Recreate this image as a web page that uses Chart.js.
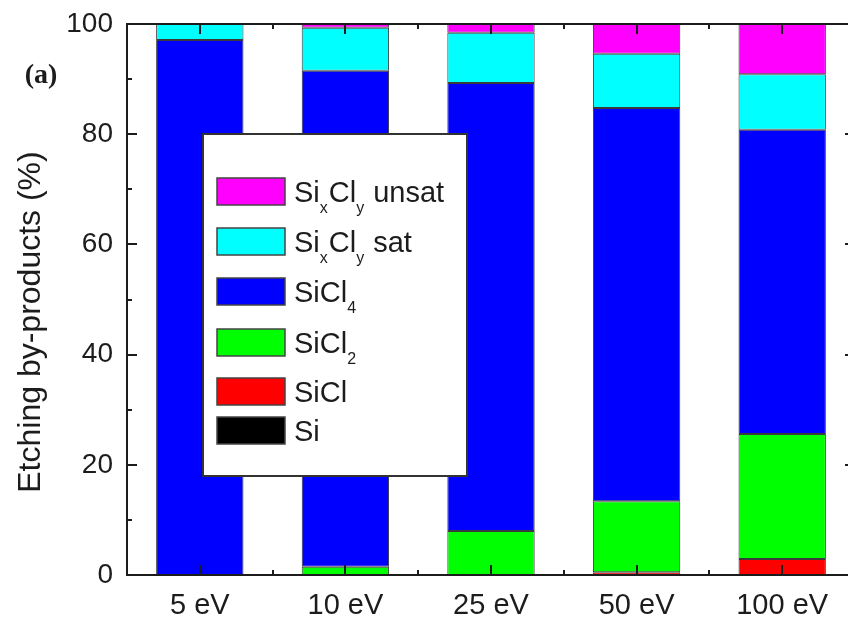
<!DOCTYPE html>
<html><head><meta charset="utf-8">
<script src="https://cdn.jsdelivr.net/npm/chart.js@4.4.0/dist/chart.umd.min.js"></script>
<style>
html,body{margin:0;padding:0;background:#fff;overflow:hidden;}
#wrap{width:848px;height:623px;overflow:hidden;position:relative;background:#fff;}
canvas{position:absolute;left:0;top:0;}
</style></head><body>
<div id="wrap"><canvas id="c" width="856" height="623"></canvas></div>
<script>
// ---- data ----
const categories = ['5 eV', '10 eV', '25 eV', '50 eV', '100 eV'];
const si          = [0, 0, 0, 0, 0];
const sicl        = [0, 0, 0, 0.5, 2.9];
const sicl2       = [0, 1.5, 8.0, 12.9, 22.7];
const sicl4       = [97.1, 90.0, 81.3, 71.35, 55.2];
const sixclySat   = [2.9, 7.8, 9.1, 9.85, 10.1];
const sixclyUnsat = [0, 0.7, 1.6, 5.4, 9.1];
const yTicks = [0, 20, 40, 60, 80, 100];
const yTitle = 'Etching by-products (%)';

const FONT = "'Liberation Sans', Arial, Helvetica, sans-serif";
const INK = '#1c1c1c';

const datasets = [
  {label: 'Si', data: si, backgroundColor: '#000000'},
  {label: 'SiCl', data: sicl, backgroundColor: '#ff0000'},
  {label: 'SiCl2', data: sicl2, backgroundColor: '#00ff00'},
  {label: 'SiCl4', data: sicl4, backgroundColor: '#0000ff'},
  {label: 'SixCly sat', data: sixclySat, backgroundColor: '#00ffff'},
  {label: 'SixCly unsat', data: sixclyUnsat, backgroundColor: '#ff00ff'}
].map(d => Object.assign(d, {
  borderColor: '#3a3a3a', borderWidth: 1, borderSkipped: false,
  barPercentage: 0.6, categoryPercentage: 1.0
}));

// legend label rich text (top to bottom)
const legendItems = [
  {ds: 5, parts: [['Si'], ['x', 1], ['Cl'], ['y', 1], [' unsat']]},
  {ds: 4, parts: [['Si'], ['x', 1], ['Cl'], ['y', 1], [' sat']]},
  {ds: 3, parts: [['SiCl'], ['4', 1]]},
  {ds: 2, parts: [['SiCl'], ['2', 1]]},
  {ds: 1, parts: [['SiCl']]},
  {ds: 0, parts: [['Si']]}
];
const legendRows = [191, 241, 291, 342, 391, 430];

const decor = {
  id: 'decor',
  afterDatasetsDraw(chart) {
    const {ctx, chartArea: a, scales: {x, y}} = chart;
    ctx.save();
    ctx.strokeStyle = INK;
    ctx.lineWidth = 2;
    // frame
    ctx.strokeRect(a.left, a.top, a.right - a.left, a.bottom - a.top);
    // y ticks (inward), left & right
    ctx.beginPath();
    for (let v = 0; v <= 100; v += 10) {
      const py = Math.round(y.getPixelForValue(v)) ;
      const len = (v % 20 === 0) ? 10 : 5;
      ctx.moveTo(a.left, py); ctx.lineTo(a.left + len, py);
      ctx.moveTo(a.right, py); ctx.lineTo(a.right - len, py);
    }
    // x ticks (inward), bottom & top
    const n = categories.length;
    for (let i = 0; i < n; i++) {
      const px = Math.round(x.getPixelForValue(i));
      ctx.moveTo(px, a.bottom); ctx.lineTo(px, a.bottom - 10);
      ctx.moveTo(px, a.top); ctx.lineTo(px, a.top + 10);
      if (i < n - 1) {
        const mx = Math.round((x.getPixelForValue(i) + x.getPixelForValue(i + 1)) / 2);
        ctx.moveTo(mx, a.bottom); ctx.lineTo(mx, a.bottom - 5);
        ctx.moveTo(mx, a.top); ctx.lineTo(mx, a.top + 5);
      }
    }
    ctx.stroke();

    // legend box
    const bx = 203, by = 134, bw = 264, bh = 342;
    ctx.fillStyle = '#ffffff';
    ctx.fillRect(bx, by, bw, bh);
    ctx.lineWidth = 2;
    ctx.strokeStyle = '#333';
    ctx.strokeRect(bx, by, bw, bh);
    legendItems.forEach((it, k) => {
      const cy = legendRows[k];
      const ds = chart.data.datasets[it.ds];
      ctx.fillStyle = ds.backgroundColor;
      ctx.fillRect(217, cy - 13, 68, 27);
      ctx.lineWidth = 1.5;
      ctx.strokeStyle = '#444';
      ctx.strokeRect(217, cy - 13, 68, 27);
      let tx = 294;
      const base = cy + 10.5;
      ctx.fillStyle = INK;
      ctx.textBaseline = 'alphabetic';
      ctx.textAlign = 'left';
      it.parts.forEach(([t, sub]) => {
        ctx.font = sub ? `16px ${FONT}` : `29px ${FONT}`;
        ctx.fillText(t, tx, sub ? base + 11 : base);
        tx += ctx.measureText(t).width + (sub ? 1 : 0);
      });
    });

    // y-axis title
    ctx.save();
    ctx.translate(31, 322);
    ctx.rotate(-Math.PI / 2);
    ctx.font = `32px ${FONT}`;
    ctx.fillStyle = INK;
    ctx.textAlign = 'center';
    ctx.textBaseline = 'middle';
    ctx.fillText(yTitle, 0, 0);
    ctx.restore();

    // panel label
    ctx.font = `bold 28px 'Liberation Serif', 'Times New Roman', serif`;
    ctx.fillStyle = INK;
    ctx.textAlign = 'center';
    ctx.textBaseline = 'middle';
    ctx.fillText('(a)', 41, 76);
    ctx.restore();
  }
};

new Chart(document.getElementById('c'), {
  type: 'bar',
  data: {labels: categories, datasets},
  options: {
    responsive: false,
    animation: false,
    layout: {padding: {top: 24, right: 1, left: 0, bottom: 0}},
    plugins: {legend: {display: false}, tooltip: {enabled: false}},
    scales: {
      x: {
        stacked: true,
        grid: {display: false, drawTicks: false},
        border: {display: false},
        ticks: {font: {family: FONT, size: 29}, color: INK, padding: 14, maxRotation: 0},
        afterFit(s) { s.height = 48; s.paddingLeft = 0; s.paddingRight = 0; }
      },
      y: {
        stacked: true, min: 0, max: 100,
        afterBuildTicks(s) { s.ticks = yTicks.map(v => ({value: v})); },
        grid: {display: false, drawTicks: false},
        border: {display: false},
        ticks: {font: {family: FONT, size: 28}, color: INK, padding: 14},
        title: {display: false},
        afterFit(s) { s.width = 127; s.paddingTop = 0; s.paddingBottom = 0; }
      }
    }
  },
  plugins: [decor]
});
</script>
</body></html>
